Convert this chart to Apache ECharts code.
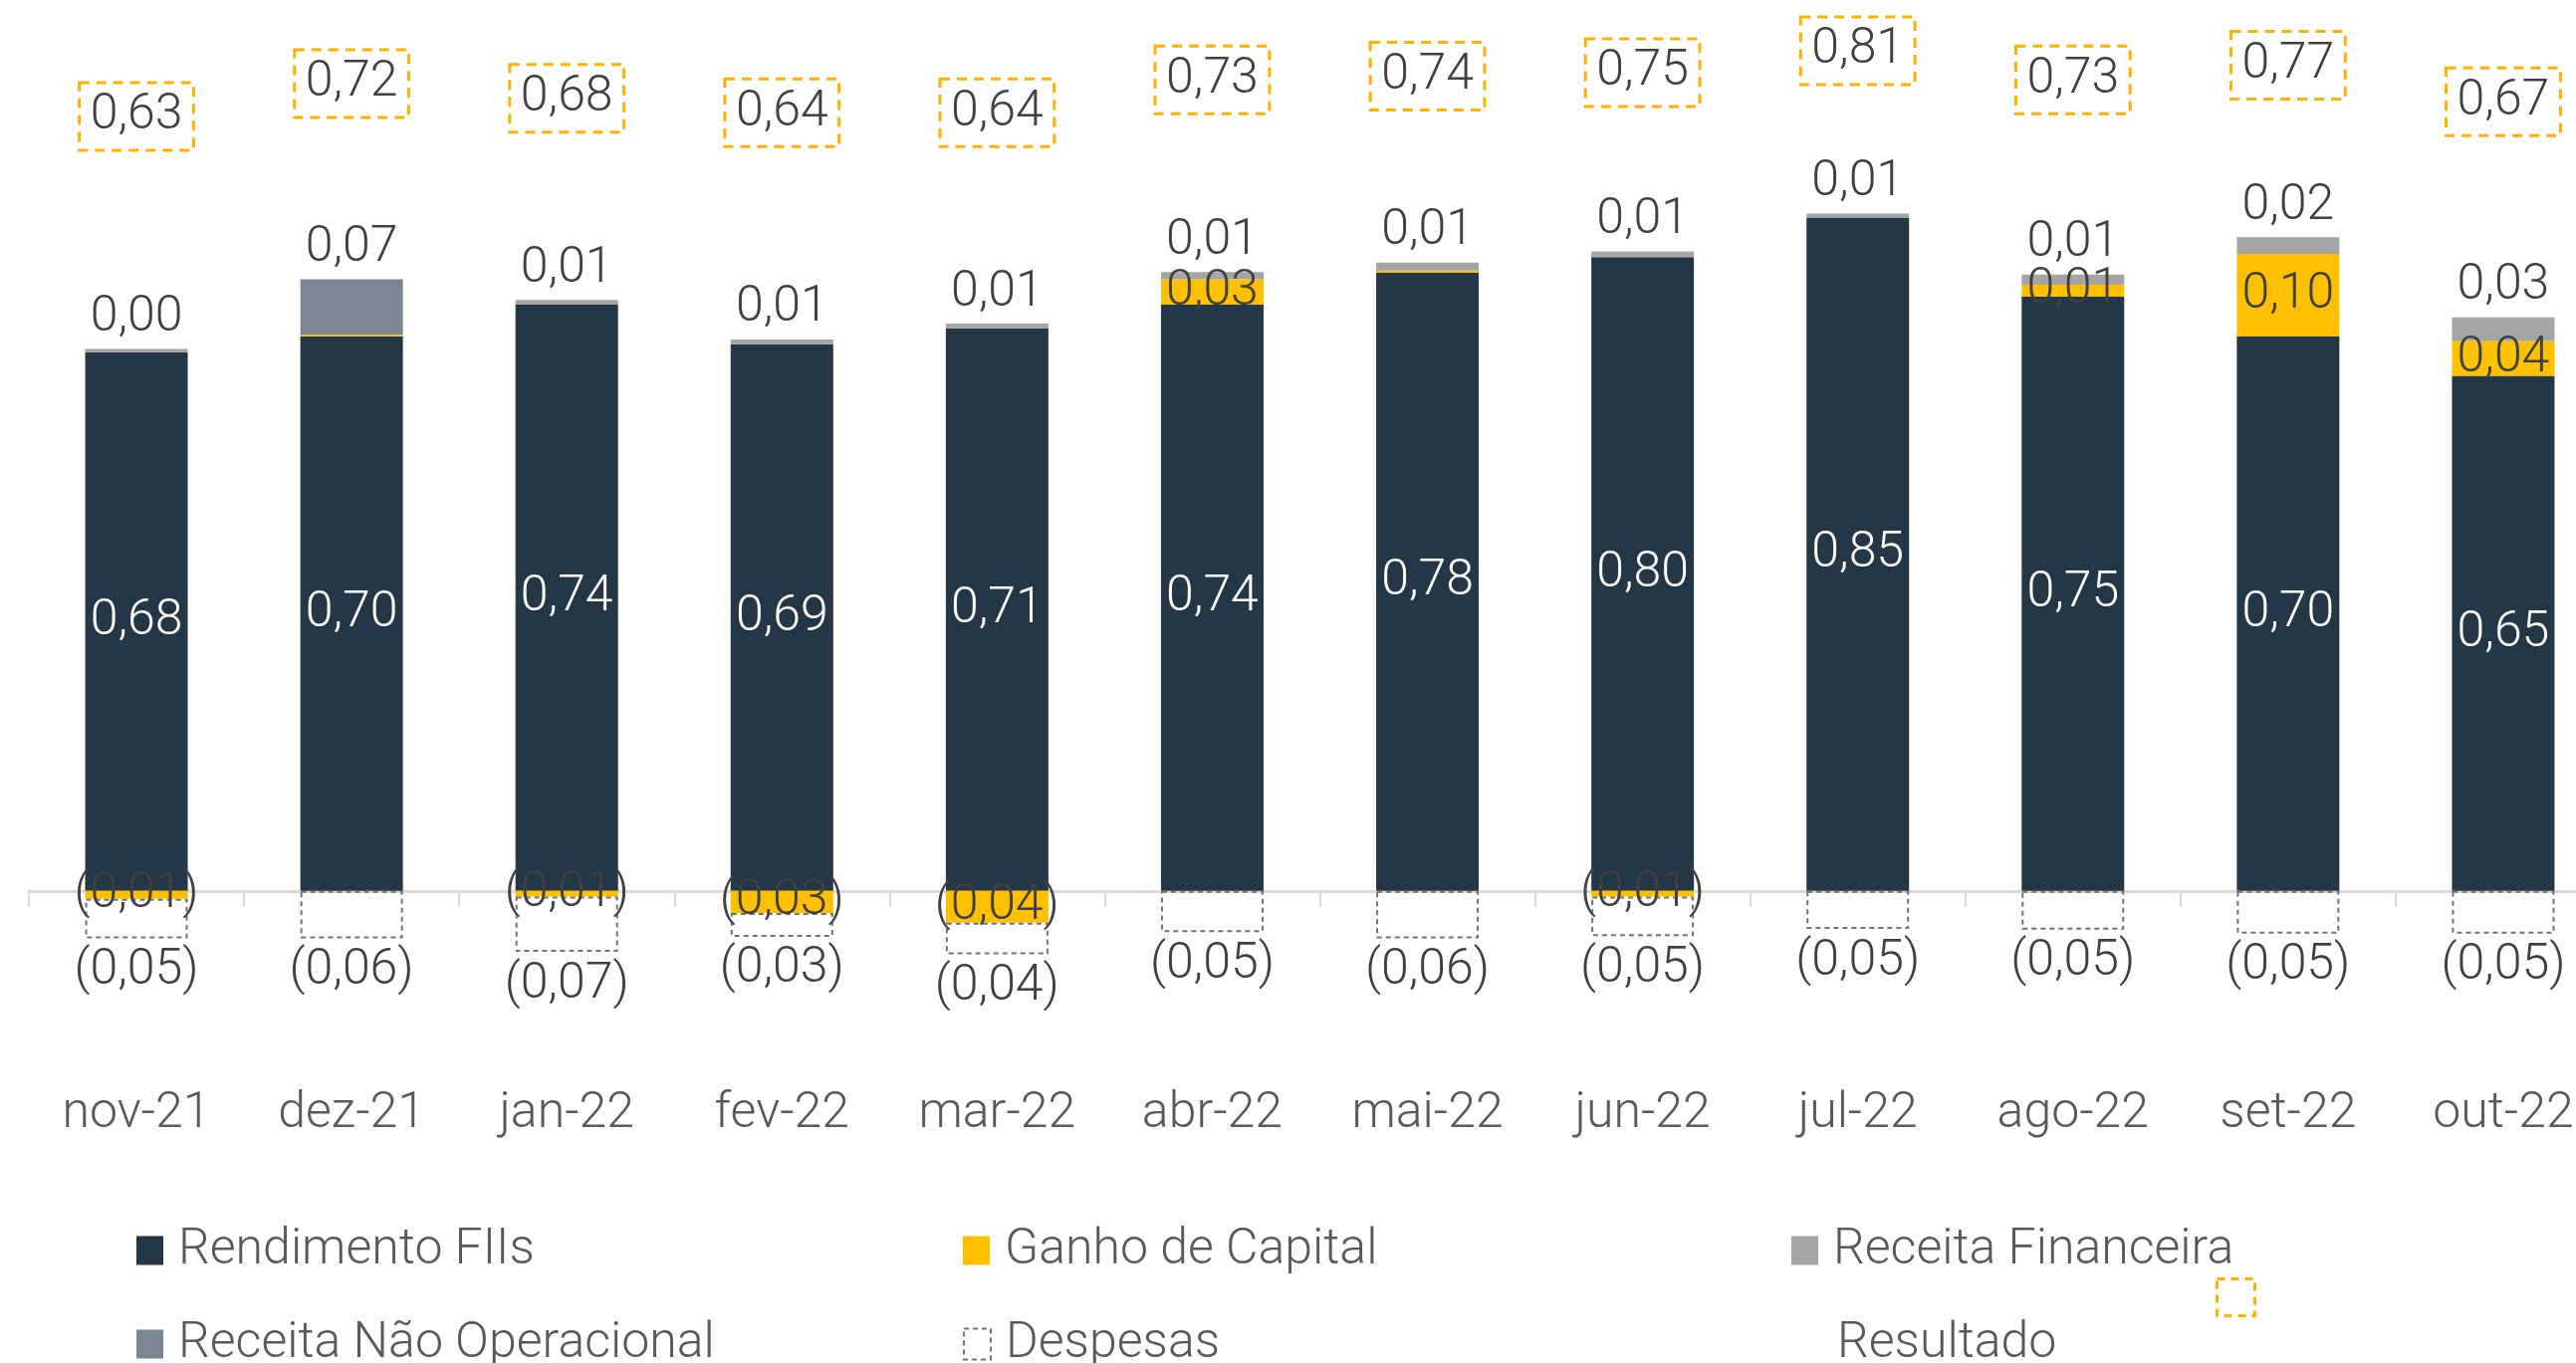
<!DOCTYPE html>
<html>
<head>
<meta charset="utf-8">
<title>Resultado mensal</title>
<script src="https://cdn.jsdelivr.net/npm/echarts@6/dist/echarts.min.js"></script>
<style>
  html, body { margin: 0; padding: 0; background: #fff; }
  #myChart { width: 2587px; height: 1369px; }
</style>
</head>
<body>
<div id="myChart"></div>
<script>
// valores por mes (R$/cota)
const categories = ['nov-21', 'dez-21', 'jan-22', 'fev-22', 'mar-22', 'abr-22', 'mai-22', 'jun-22', 'jul-22', 'ago-22', 'set-22', 'out-22']
const rendimentoFIIs = [0.68, 0.70, 0.74, 0.69, 0.71, 0.74, 0.78, 0.80, 0.85, 0.75, 0.70, 0.65]
const ganhoCapital = [-0.01, 0.002, -0.007, -0.028, -0.04, 0.032, 0.003, -0.007, 0, 0.015, 0.104, 0.044]
const receitaFinanceira = [0.004, null, 0.006, 0.006, 0.006, 0.009, 0.01, 0.007, 0.005, 0.013, 0.021, 0.03]
const receitaNaoOperacional = [0, 0.07, 0, 0, 0, 0, 0, 0, 0, 0, 0, 0]
const despesas = [-0.05, -0.06, -0.07, -0.03, -0.04, -0.052, -0.06, -0.05, -0.048, -0.049, -0.054, -0.054]
const resultado = [0.63, 0.72, 0.68, 0.64, 0.64, 0.73, 0.74, 0.75, 0.81, 0.73, 0.77, 0.67]

const fontFamily = 'Roboto'
const textColor = '#404040'

function fmt (v) {
  let s = Math.abs(v).toFixed(2).replace('.', ',')
  return v < 0 ? '(' + s + ')' : s
}

function legendItem (name, left, top, extra) {
  return Object.assign({
    data: [name],
    left: left,
    top: top,
    icon: 'rect',
    itemWidth: 27,
    itemHeight: 29,
    selectedMode: false,
    textStyle: { fontSize: 50, color: '#595959', fontFamily: fontFamily, fontWeight: 300, padding: [0, 0, 0, 10] }
  }, extra || {})
}

function buildOptions () {
  const valueLabel = {
    show: true,
    fontSize: 50,
    fontFamily: fontFamily,
    fontWeight: 300,
    color: textColor
  }
  return {
    animation: false,
    textStyle: { fontFamily: fontFamily },
    grid: {
      left: 29,
      top: 99,
      width: 2593,
      height: 955,
      containLabel: false,
      outerBoundsMode: 'none'
    },
    legend: [
      legendItem('Rendimento FIIs', 132, 1226),
      legendItem('Ganho de Capital', 962, 1226),
      legendItem('Receita Financeira', 1794, 1226),
      legendItem('Receita Não Operacional', 132, 1320),
      legendItem('Despesas', 962, 1320, {
        itemHeight: 31,
        itemStyle: { color: 'rgba(255,255,255,0)', borderColor: '#767171', borderWidth: 2, borderType: [5, 4] }
      }),
      legendItem('Resultado', 1798, 1320, { itemStyle: { opacity: 0 } }),
      legendItem('Resultado', 2220, 1278, {
        itemWidth: 38,
        itemHeight: 37,
        formatter: function () { return '' },
        itemStyle: { color: 'rgba(255,255,255,0)', borderColor: '#ffb000', borderWidth: 3, borderType: [8, 6], opacity: 1 }
      })
    ],
    xAxis: {
      type: 'category',
      data: categories,
      axisLine: { onZero: true, onZeroAxisIndex: 0, lineStyle: { color: '#d9d9d9', width: 3 } },
      axisTick: { show: true, length: 16, lineStyle: { color: '#d9d9d9', width: 2 } },
      axisLabel: { margin: 40, fontSize: 50, fontWeight: 300, color: '#595959', fontFamily: fontFamily }
    },
    yAxis: [
      { type: 'value', min: -0.2, max: 1.0, show: false },
      { type: 'value', min: -1.923, max: 0.679, show: false }
    ],
    series: [
      {
        name: 'Rendimento FIIs',
        type: 'bar',
        stack: 'total',
        barWidth: 103,
        data: rendimentoFIIs,
        itemStyle: { color: '#243746' },
        label: Object.assign({}, valueLabel, {
          position: 'inside',
          color: '#ffffff',
          formatter: function (p) { return fmt(p.value) }
        })
      },
      {
        name: 'Ganho de Capital',
        type: 'bar',
        stack: 'total',
        data: ganhoCapital,
        itemStyle: { color: '#ffc000' },
        label: Object.assign({}, valueLabel, {
          position: 'inside',
          formatter: function (p) { return Math.abs(p.value) < 0.005 ? '' : fmt(p.value) }
        })
      },
      {
        name: 'Receita Financeira',
        type: 'bar',
        stack: 'total',
        data: receitaFinanceira,
        itemStyle: { color: '#a5a5a5' },
        label: Object.assign({}, valueLabel, {
          position: 'outside',
          distance: 6,
          formatter: function (p) { return fmt(p.value) }
        })
      },
      {
        name: 'Receita Não Operacional',
        type: 'bar',
        stack: 'total',
        data: receitaNaoOperacional,
        itemStyle: { color: '#7a8791' },
        label: Object.assign({}, valueLabel, {
          position: 'outside',
          distance: 6,
          formatter: function (p) { return p.value ? fmt(p.value) : '' }
        })
      },
      {
        name: 'Despesas',
        type: 'bar',
        stack: 'total',
        data: despesas,
        itemStyle: { color: 'rgba(255,255,255,0)', borderColor: '#767171', borderWidth: 2, borderType: [5, 4] },
        label: Object.assign({}, valueLabel, {
          position: 'outside',
          distance: 8,
          formatter: function (p) { return fmt(p.value) }
        })
      },
      {
        // resultado em eixo secundario, so o rotulo com borda tracejada
        name: 'Resultado',
        type: 'scatter',
        yAxisIndex: 1,
        symbolSize: 1,
        clip: false,
        data: resultado,
        itemStyle: { color: 'rgba(255,255,255,0)', opacity: 1 },
        z: 10,
        label: Object.assign({}, valueLabel, {
          position: 'inside',
          opacity: 1,
          padding: [10, 11, 8, 11],
          borderColor: '#ffb000',
          borderWidth: 3,
          borderType: [10, 7],
          formatter: function (p) { return fmt(p.value) }
        })
      }
    ]
  }
}

let myChart = echarts.init(document.getElementById('myChart'))
myChart.setOption(buildOptions())
window.onresize = function () {
  myChart.resize()
}
</script>
</body>
</html>
